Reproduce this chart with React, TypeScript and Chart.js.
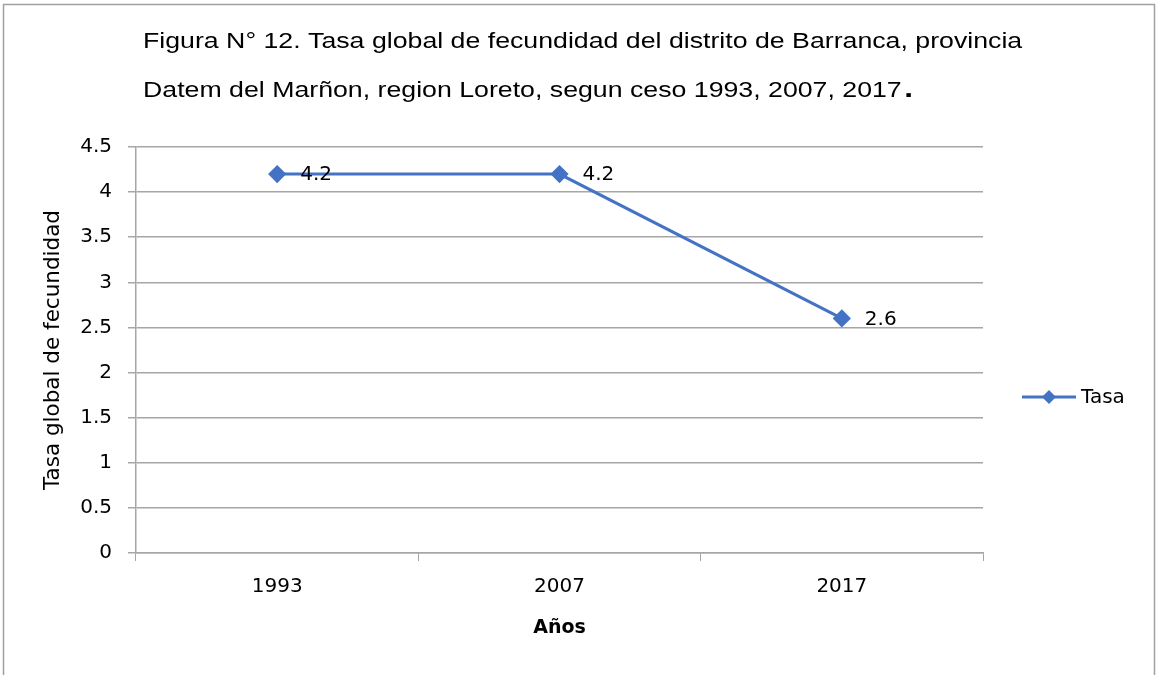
import React, { useEffect, useRef } from "react";
import { Chart, registerables } from "chart.js";

Chart.register(...registerables);

const TITLE_LINE_1 = "Figura N° 12. Tasa global de fecundidad del distrito de Barranca, provincia";
const TITLE_LINE_2 = "Datem del Marñon, region Loreto, segun ceso 1993, 2007, 2017";
const YEARS = ["1993", "2007", "2017"];
const TASA = [4.2, 4.2, 2.6];
const SERIES_NAME = "Tasa";
const X_TITLE = "Años";
const Y_TITLE = "Tasa global de fecundidad";
const Y_MIN = 0;
const Y_MAX = 4.5;
const Y_STEP = 0.5;

const BLUE = "#4472C4";
const GRID = "#a6a6a6";
const FONT = "'DejaVu Sans'";

const decor = {
  id: "decor",
  beforeDraw(chart: any) {
    const ctx = chart.ctx;
    ctx.save();
    ctx.fillStyle = "#ffffff";
    ctx.fillRect(0, 0, chart.width, chart.height);
    ctx.strokeStyle = "#a0a0a0";
    ctx.lineWidth = 1.5;
    ctx.strokeRect(3.5, 4.5, chart.width - 5, chart.height + 20);
    ctx.restore();
  },
  afterDraw(chart: any) {
    const ctx = chart.ctx;
    ctx.save();
    // title (horizontally stretched like the reference)
    ctx.fillStyle = "#000";
    ctx.textBaseline = "alphabetic";
    ctx.textAlign = "left";
    const sx = 1.214;
    ctx.save();
    ctx.translate(143, 0);
    ctx.scale(sx, 1);
    ctx.font = "22px 'Liberation Sans'";
    ctx.fillText(TITLE_LINE_1, 0, 48);
    ctx.fillText(TITLE_LINE_2, 0, 97);
    const w2 = ctx.measureText(TITLE_LINE_2).width;
    ctx.font = "bold 26px 'Liberation Sans'";
    ctx.fillText(".", w2 + 2, 97);
    ctx.restore();

    // data labels
    const meta = chart.getDatasetMeta(0);
    ctx.textBaseline = "middle";
    ctx.font = `20px ${FONT}`;
    meta.data.forEach((pt: any, i: number) => {
      ctx.fillText(String(TASA[i]), pt.x + 23, pt.y + 1);
    });

    // legend
    const ly = 397;
    ctx.strokeStyle = BLUE;
    ctx.lineWidth = 3;
    ctx.beginPath();
    ctx.moveTo(1022, ly);
    ctx.lineTo(1076, ly);
    ctx.stroke();
    ctx.fillStyle = BLUE;
    ctx.beginPath();
    const r = 7;
    ctx.moveTo(1049, ly - r);
    ctx.lineTo(1049 + r, ly);
    ctx.lineTo(1049, ly + r);
    ctx.lineTo(1049 - r, ly);
    ctx.closePath();
    ctx.fill();
    ctx.fillStyle = "#000";
    ctx.font = `20px ${FONT}`;
    ctx.fillText(SERIES_NAME, 1081, ly + 1);
    ctx.restore();
  },
};

export default function App() {
  const ref = useRef<HTMLCanvasElement | null>(null);
  useEffect(() => {
    document.body.style.margin = "0";
    const canvas = ref.current!;
    const chart = new Chart(canvas, {
      type: "line",
      data: {
        labels: YEARS,
        datasets: [
          {
            label: SERIES_NAME,
            data: TASA,
            borderColor: BLUE,
            backgroundColor: BLUE,
            borderWidth: 3,
            pointStyle: "rectRot",
            pointRadius: 7,
            pointBackgroundColor: BLUE,
            pointBorderColor: BLUE,
            tension: 0,
          },
        ],
      },
      options: {
        responsive: false,
        animation: false,
        devicePixelRatio: 1,
        layout: { padding: { left: 0, top: 147, right: 173, bottom: 0 } },
        plugins: {
          legend: { display: false },
          tooltip: { enabled: false },
          title: { display: false },
        },
        scales: {
          x: {
            type: "category",
            offset: true,
            grid: {
              offset: true,
              drawOnChartArea: false,
              drawTicks: true,
              tickLength: 8,
              color: GRID,
            },
            border: { color: GRID, width: 1.5 },
            ticks: {
              color: "#000",
              font: { family: FONT, size: 20 },
              padding: 14,
              maxRotation: 0,
            },
            title: {
              display: true,
              text: X_TITLE,
              color: "#000",
              font: { family: FONT, size: 19, weight: "bold" },
              padding: { top: 0, bottom: 36 },
            },
            afterFit: (s: any) => {
              s.height = 122;
            },
          },
          y: {
            min: Y_MIN,
            max: Y_MAX,
            grid: {
              color: GRID,
              lineWidth: 1.5,
              drawTicks: true,
              tickLength: 8,
            },
            border: { color: GRID, width: 1.5 },
            ticks: {
              stepSize: Y_STEP,
              color: "#000",
              font: { family: FONT, size: 20 },
              padding: 16,
              callback: (v: any) => String(v),
            },
            title: {
              display: true,
              text: Y_TITLE,
              color: "#000",
              font: { family: FONT, size: 21.5 },
              padding: { top: 41, bottom: 0 },
            },
            afterFit: (s: any) => {
              s.width = 136;
            },
          },
        },
      },
      plugins: [decor],
    } as any);
    return () => chart.destroy();
  }, []);
  return <canvas ref={ref} width={1156} height={675} style={{ display: "block" }} />;
}
